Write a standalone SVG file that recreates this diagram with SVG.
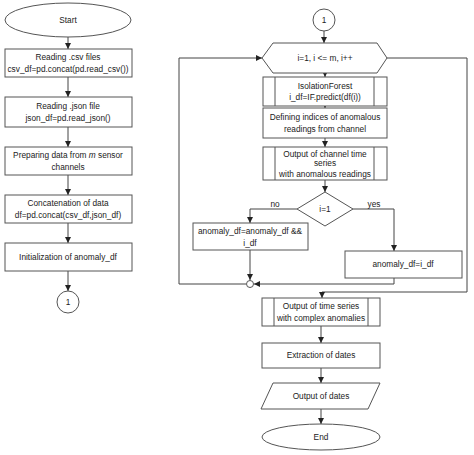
<svg xmlns="http://www.w3.org/2000/svg" width="474" height="455" viewBox="0 0 474 455">
<style>
.s{fill:#fff;stroke:#555;stroke-width:1}
.c{fill:none;stroke:#444;stroke-width:1}
text{font-family:"Liberation Sans",Arial,sans-serif;font-size:8.3px;fill:#222;text-anchor:middle}
</style>
<defs>
<marker id="a" viewBox="0 0 6 6" refX="6" refY="3" markerWidth="6" markerHeight="6" markerUnits="userSpaceOnUse" orient="auto">
<path d="M0,0 L6,3 L0,6 Z" fill="#222"/>
</marker>
</defs>
<rect width="474" height="455" fill="#fff"/>
<g id="connectors" class="c">
<path d="M68,37 V49" marker-end="url(#a)"/>
<path d="M68,77 V97" marker-end="url(#a)"/>
<path d="M68,127 V147" marker-end="url(#a)"/>
<path d="M68,175 V195" marker-end="url(#a)"/>
<path d="M68,223 V243" marker-end="url(#a)"/>
<path d="M68,271 V291" marker-end="url(#a)"/>
<path d="M324,31 V43" marker-end="url(#a)"/>
<path d="M325,73 V77" marker-end="url(#a)"/>
<path d="M325,106 V108" marker-end="url(#a)"/>
<path d="M325,138 V147" marker-end="url(#a)"/>
<path d="M325,180 V192" marker-end="url(#a)"/>
<path d="M297,209 H250 V223" marker-end="url(#a)"/>
<path d="M353,209 H394 V251" marker-end="url(#a)"/>
<path d="M250,250 V280" marker-end="url(#a)"/>
<path d="M394,278 V284 H254" marker-end="url(#a)"/>
<path d="M246,284 H179 V58 H262" marker-end="url(#a)"/>
<path d="M387,58 H467 V292 H322 V298" marker-end="url(#a)"/>
<path d="M321,326 V343" marker-end="url(#a)"/>
<path d="M321,368 V383" marker-end="url(#a)"/>
<path d="M321,409 V424" marker-end="url(#a)"/>
</g>
<g id="start"><ellipse class="s" cx="68" cy="20" rx="63" ry="17"/><text x="68" y="23">Start</text></g>
<g id="readcsv"><rect class="s" x="5" y="49" width="127" height="28"/><text x="68" y="60">Reading .csv files</text><text x="68" y="72">csv_df=pd.concat(pd.read_csv())</text></g>
<g id="readjson"><rect class="s" x="5" y="97" width="127" height="30"/><text x="68" y="109">Reading .json file</text><text x="68" y="121">json_df=pd.read_json()</text></g>
<g id="prepare"><rect class="s" x="5" y="147" width="127" height="28"/><text x="68" y="158">Preparing data from <tspan font-style="italic">m</tspan> sensor</text><text x="68" y="170">channels</text></g>
<g id="concat"><rect class="s" x="5" y="195" width="127" height="28"/><text x="68" y="206">Concatenation of data</text><text x="68" y="218">df=pd.concat(csv_df,json_df)</text></g>
<g id="init"><rect class="s" x="5" y="243" width="127" height="28"/><text x="68" y="260">Initialization of anomaly_df</text></g>
<g id="conn1"><circle class="s" cx="68" cy="302" r="11"/><text x="68" y="305">1</text></g>
<g id="conn1b"><circle class="s" cx="324" cy="20" r="11"/><text x="324" y="23">1</text></g>
<g id="loop"><polygon class="s" points="262,58 273,43 377,43 387,58 377,73 273,73"/><text x="325" y="61">i=1, i &lt;= m, i++</text></g>
<g id="iforest"><rect class="s" x="263" y="77" width="124" height="29"/><path class="s" d="M275,77 V106 M374,77 V106"/><text x="325" y="89">IsolationForest</text><text x="325" y="100">i_df=IF.predict(df(i))</text></g>
<g id="define"><rect class="s" x="263" y="108" width="124" height="30"/><text x="325" y="120">Defining indices of anomalous</text><text x="325" y="132">readings from channel</text></g>
<g id="outchan"><rect class="s" x="263" y="147" width="124" height="33"/><path class="s" d="M275,147 V180 M374,147 V180"/><text x="325" y="157">Output of channel time</text><text x="325" y="166">series</text><text x="325" y="177">with anomalous readings</text></g>
<g id="decision"><polygon class="s" points="325,192 353,209 325,226 297,209"/><text x="325" y="212">i=1</text></g>
<text x="275" y="207">no</text>
<text x="374" y="207">yes</text>
<g id="nobox"><rect class="s" x="193" y="223" width="115" height="27"/><text x="250" y="234">anomaly_df=anomaly_df &amp;&amp;</text><text x="250" y="246">i_df</text></g>
<g id="yesbox"><rect class="s" x="345" y="251" width="117" height="27"/><text x="403" y="267">anomaly_df=i_df</text></g>
<g id="merge"><circle class="s" cx="250" cy="284" r="3.5"/></g>
<g id="outcomplex"><rect class="s" x="262" y="298" width="118" height="28"/><path class="s" d="M274,298 V326 M368,298 V326"/><text x="321" y="309">Output of time series</text><text x="321" y="321">with complex anomalies</text></g>
<g id="extract"><rect class="s" x="262" y="343" width="118" height="25"/><text x="321" y="358">Extraction of dates</text></g>
<g id="outdates"><polygon class="s" points="273,383 380,383 368,409 261,409"/><text x="321" y="399">Output of dates</text></g>
<g id="end"><ellipse class="s" cx="321" cy="437" rx="59" ry="13"/><text x="321" y="440">End</text></g>
</svg>
